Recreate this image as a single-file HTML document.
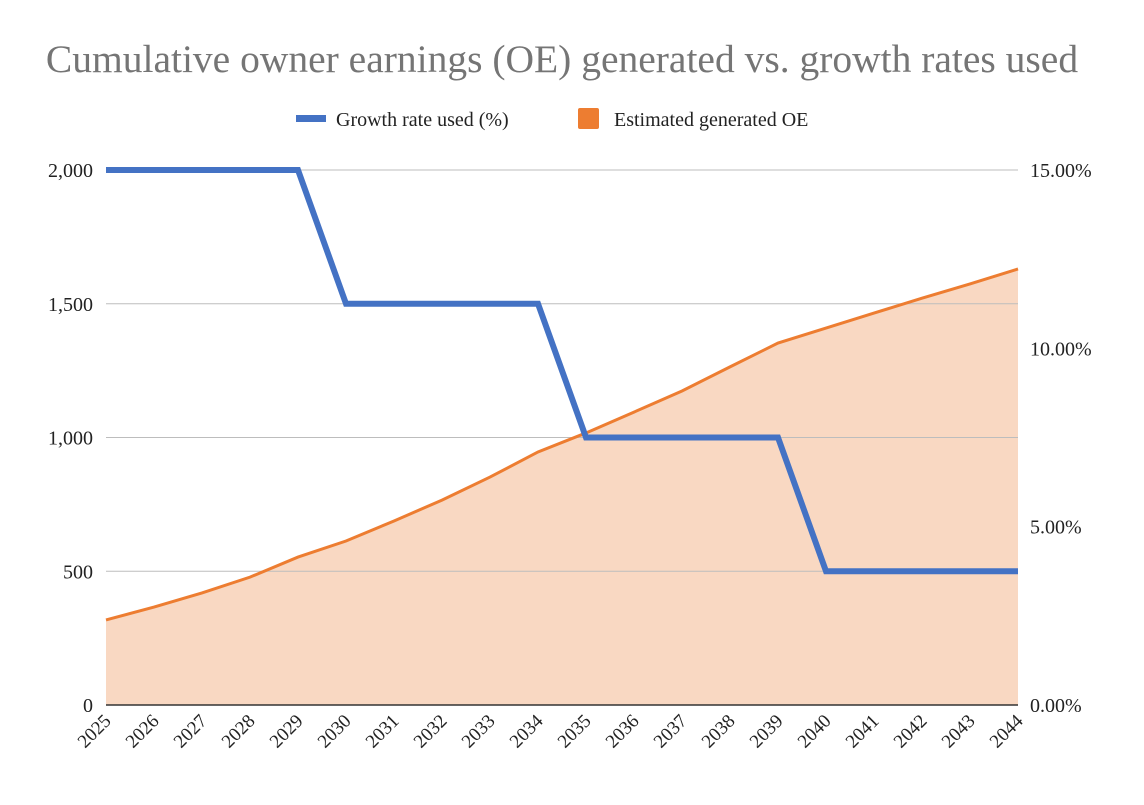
<!DOCTYPE html>
<html><head><meta charset="utf-8"><style>
body{margin:0;background:#fff;width:1144px;height:800px;overflow:hidden}
svg text{font-family:"Liberation Serif",serif}
</style></head><body>
<svg id="chart" width="1144" height="800" xmlns="http://www.w3.org/2000/svg">
<text x="562" y="72" text-anchor="middle" font-size="39.5" fill="#757575">Cumulative owner earnings (OE) generated vs. growth rates used</text>
<g>
<rect x="296" y="115" width="30" height="7" fill="#4472c4"/>
<text x="336" y="126" font-size="20" fill="#222">Growth rate used (%)</text>
<rect x="578" y="108" width="21" height="21" rx="2" fill="#ed7d31"/>
<text x="614" y="126" font-size="20" fill="#222">Estimated generated OE</text>
</g>
<g id="grid"></g><g id="marks"></g><g id="axes"></g>
</svg>
<script>
const years=[2025,2026,2027,2028,2029,2030,2031,2032,2033,2034,2035,2036,2037,2038,2039,2040,2041,2042,2043,2044];
const oeValues=[318,366,419,478,553,613,688,766,852,946,1017,1095,1174,1264,1353,1409,1465,1521,1574,1630];
const growthValues=[15,15,15,15,15,11.25,11.25,11.25,11.25,11.25,7.5,7.5,7.5,7.5,7.5,3.75,3.75,3.75,3.75,3.75];
const leftTicks=[0,500,1000,1500,2000];
const rightTicks=[0,5,10,15];
const NS="http://www.w3.org/2000/svg";
const X0=106,X1=1018,Y0=705,Y1=170;
const x=i=>X0+(X1-X0)*i/(years.length-1);
const yL=v=>Y0-(Y0-Y1)*v/2000;
const yR=v=>Y0-(Y0-Y1)*v/15;
function mk(tag,attrs,parent){const e=document.createElementNS(NS,tag);for(const k in attrs)e.setAttribute(k,attrs[k]);document.getElementById(parent).appendChild(e);return e;}
let pts=oeValues.map((v,i)=>x(i)+','+yL(v)).join(' ');
const area=mk('polygon',{points:`${X0},${Y0} ${pts} ${X1},${Y0}`,fill:'#f9d8c2'},'grid');


leftTicks.forEach(t=>{
 const l=mk('line',{x1:X0,x2:X1,y1:yL(t),y2:yL(t),stroke:t===0?'#333':'#bdbdbd','stroke-width':t===0?1.5:1},'grid');
 
 
 const tx=mk('text',{x:93,y:yL(t)+7,'text-anchor':'end','font-size':20,fill:'#222'},'axes');
 tx.textContent=t.toLocaleString('en-US');
 
 
});
rightTicks.forEach(t=>{
 const tx=mk('text',{x:1030,y:yR(t)+7,'font-size':20,fill:'#222'},'axes');
 tx.textContent=t.toFixed(2)+'%';
 
 
});
years.forEach((yr,i)=>{
 const tx=mk('text',{x:x(i)+6,y:722,'text-anchor':'end','font-size':19,fill:'#222',transform:`rotate(-45 ${x(i)+6} 722)`},'axes');
 tx.textContent=yr;
 
 
});
const ol=mk('polyline',{points:pts,fill:'none',stroke:'#ed7d31','stroke-width':3},'marks');


const gl=mk('polyline',{points:growthValues.map((v,i)=>x(i)+','+yR(v)).join(' '),fill:'none',stroke:'#4472c4','stroke-width':6},'marks');


</script>
</body></html>
